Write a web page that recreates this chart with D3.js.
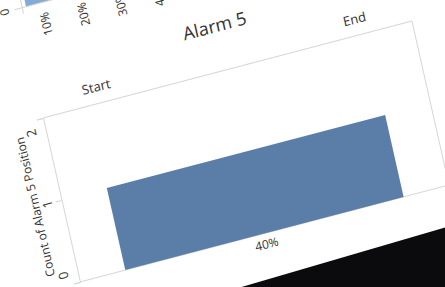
<!DOCTYPE html>
<html>
<head>
<meta charset="utf-8">
<script src="https://cdn.jsdelivr.net/npm/d3@7"></script>
<style>
  html, body { margin: 0; padding: 0; background: #fff; overflow: hidden; }
  text { font-family: "Open Sans", "Noto Sans", sans-serif; fill: #333; }
</style>
</head>
<body>
<div id="chart"></div>
<script>
// main chart
const categories = ["40%"];
const counts = [1];
const yTicks = [0, 1, 2];
const colLabels = ["Start", "End"];

// remnant of the chart above (only its edge is in the photo)
const prevCategories = ["10%", "20%", "30%", "40%", "50%", "60%", "70%", "80%", "90%", "100%"];
const prevCounts = [3, 0, 0, 0, 0, 0, 0, 0, 0, 0];

const width = 445, height = 287;
const W = 380, H = 168;   // plot pane in "screen" coords before the photo skew

const svg = d3.select("#chart").append("svg")
    .attr("width", width)
    .attr("height", height);

svg.append("rect").attr("width", width).attr("height", height).attr("fill", "#fff");

// photo of a monitor taken at an angle -> rotate + shear
const g = svg.append("g")
    .attr("transform", "matrix(0.971,-0.255,0.22,0.976,43,118)");

const x = d3.scaleBand().domain(categories).range([0, W]).paddingInner(0.14).paddingOuter(0.14);
const y = d3.scaleLinear().domain([0, 2]).range([H, 0]);

// pane border
const border = "#d6d6d6";
g.append("line").attr("x1", 0).attr("y1", 0).attr("x2", W).attr("y2", 0).attr("stroke", border);
g.append("line").attr("x1", W).attr("y1", 0).attr("x2", W).attr("y2", H).attr("stroke", border);
g.append("line").attr("x1", 0).attr("y1", H).attr("x2", W).attr("y2", H).attr("stroke", border);

// bar
g.selectAll("rect.bar")
    .data(categories)
    .join("rect")
    .attr("class", "bar")
    .attr("x", d => x(d))
    .attr("width", x.bandwidth())
    .attr("y", (d, i) => y(counts[i]))
    .attr("height", (d, i) => y(0) - y(counts[i]))
    .attr("fill", "#5b7ea9");

// y axis (edge labels are pulled inside the pane, tableau style)
const yMax = d3.max(yTicks);
const yAxis = g.append("g")
    .call(d3.axisLeft(y).tickValues(yTicks).tickSize(6).tickPadding(4).tickFormat(d3.format("d")));
yAxis.select(".domain").attr("stroke", border);
yAxis.selectAll(".tick line").attr("stroke", border);
yAxis.selectAll(".tick text")
    .attr("font-size", 13)
    .attr("fill", "#444")
    .attr("text-anchor", "middle")
    .attr("x", null).attr("dy", null)
    .attr("transform", d => `translate(-14,${d === 0 ? -11 : d === yMax ? 11 : 0}) rotate(-90)`)
    .attr("y", 4);

g.append("text")
    .attr("transform", `translate(-27,${H / 2}) rotate(-90)`)
    .attr("text-anchor", "middle")
    .attr("dy", "0.35em")
    .attr("font-size", 12)
    .attr("fill", "#444")
    .text("Count of Alarm 5 Position");

// x labels
g.selectAll("text.xlab")
    .data(categories)
    .join("text")
    .attr("class", "xlab")
    .attr("x", d => x(d) + x.bandwidth() / 2)
    .attr("y", H + 15)
    .attr("text-anchor", "middle")
    .attr("font-size", 12)
    .text(d => d);

// column header + title
g.append("text").attr("x", 44).attr("y", -12).attr("font-size", 13).text(colLabels[0]);
g.append("text").attr("x", W - 44).attr("y", -12).attr("text-anchor", "end").attr("font-size", 13).text(colLabels[1]);
g.append("text").attr("x", W / 2 - 3).attr("y", -39).attr("text-anchor", "middle")
    .attr("font-size", 18).attr("fill", "#2b2b2b").text("Alarm 5");

// previous chart remnant
const prevBase = -112;
const px = d3.scaleBand().domain(prevCategories).range([4, 4 + 38.5 * prevCategories.length]).padding(0.05);
const py = d3.scaleLinear().domain([0, 3]).range([prevBase, prevBase - 160]);
g.selectAll("rect.prev")
    .data(prevCategories)
    .join("rect")
    .attr("class", "prev")
    .attr("x", d => px(d) + 2)
    .attr("width", px.bandwidth() - 2)
    .attr("y", (d, i) => py(prevCounts[i]))
    .attr("height", (d, i) => py(0) - py(prevCounts[i]))
    .attr("fill", "#84abd6");
g.append("line").attr("x1", -4).attr("x2", W).attr("y1", prevBase).attr("y2", prevBase).attr("stroke", border);
g.append("line").attr("x1", 4).attr("x2", 4).attr("y1", prevBase + 6).attr("y2", prevBase - 160).attr("stroke", border);
g.append("text")
    .attr("transform", `translate(-10,${prevBase}) rotate(-90)`)
    .attr("text-anchor", "middle").attr("font-size", 12).attr("fill", "#444").text("0");
g.selectAll("text.prevlab")
    .data(prevCategories)
    .join("text")
    .attr("class", "prevlab")
    .attr("transform", d => `translate(${px(d) + px.bandwidth() / 2 + 4},${prevBase + 10}) rotate(-90)`)
    .attr("text-anchor", "end")
    .attr("font-size", 12)
    .attr("fill", "#444")
    .text(d => d);

// monitor bezel at the bottom right of the photo
g.append("polygon")
    .attr("points", "-200,224 700,198.5 700,600 -200,600")
    .attr("fill", "#0b0b0e");
</script>
</body>
</html>
